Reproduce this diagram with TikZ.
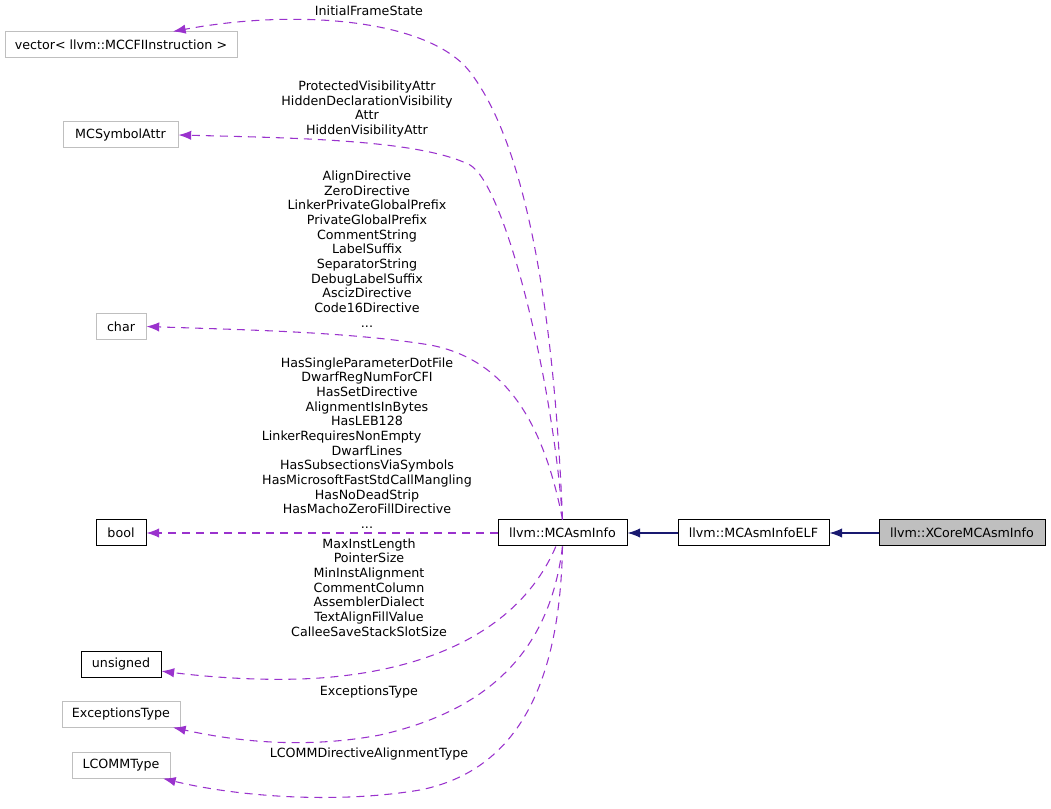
\documentclass[tikz,border=0pt]{standalone}
\usepackage{fontspec}
\setmainfont{DejaVu Sans}
\usetikzlibrary{arrows.meta}

\tikzset{
  cls/.style={draw=black, line width=0.75pt, minimum height=19.5pt, inner sep=0pt, font=\fontsize{9.5}{11}\selectfont},
  nodoc/.style={cls, draw={rgb, 255:red, 191; green, 191; blue, 191}},
  lbl/.style={align=center, inner sep=0pt, font=\fontsize{9.5}{11}\selectfont},
  usage/.style={draw={rgb, 255:red, 154; green, 50; blue, 205}, line width=0.8pt, dash pattern=on 6pt off 4.5pt,
    -{Latex[length=9.5pt,width=7pt,fill={rgb, 255:red, 154; green, 50; blue, 205}]}},
  inherit/.style={draw={rgb, 255:red, 25; green, 25; blue, 112}, line width=0.8pt,
    -{Latex[length=9.5pt,width=7pt,fill={rgb, 255:red, 25; green, 25; blue, 112}]}}
}

\begin{document}
\begin{tikzpicture}[x=0.75pt,y=0.75pt,yscale=-1,xscale=1]
    \useasboundingbox (0,0) rectangle (1051,809);

    %Class boxes
    \node [nodoc, minimum width=174pt] (vec) at (121,45) {vector< llvm::MCCFIInstruction >};
    \node [nodoc, minimum width=86.25pt] (sym) at (120.5,135) {MCSymbolAttr};
    \node [nodoc, minimum width=37.5pt] (chr) at (121,326.5) {char};
    \node [cls, minimum width=37.5pt] (boolbox) at (121,533) {bool};
    \node [cls, minimum width=60pt] (uns) at (121,664) {unsigned};
    \node [nodoc, minimum width=88.5pt] (exc) at (121,714) {ExceptionsType};
    \node [nodoc, minimum width=73.5pt] (lcomm) at (121,765) {LCOMMType};
    \node [cls, minimum width=96.75pt] (asm) at (562.5,533) {llvm::MCAsmInfo};
    \node [cls, minimum width=113.25pt] (elf) at (753.5,533) {llvm::MCAsmInfoELF};
    \node [cls, minimum width=124.5pt, fill={rgb, 255:red, 191; green, 191; blue, 191}] (xcore) at (962,533) {llvm::XCoreMCAsmInfo};

    %Inheritance
    \draw [inherit] (xcore) -- (elf);
    \draw [inherit] (elf) -- (asm);

    %Member usage
    \draw [usage] (asm.north) .. controls (555,330) and (530,150) .. (470,72) .. controls (430,20) and (300,8) .. ([xshift=39pt]vec.north);
    \draw [usage] (asm.north) .. controls (553,380) and (505,185) .. (470,165) .. controls (420,140) and (300,138) .. (sym.east);
    \draw [usage] (asm.north) .. controls (545,430) and (510,360) .. (430,345) .. controls (350,332) and (250,330) .. (chr.east);
    \draw [usage] (asm) -- (boolbox);
    \draw [usage] ([xshift=-5pt]asm.south) .. controls (520,630) and (430,670) .. (320,678) .. controls (260,682) and (200,676) .. (uns.-10);
    \draw [usage] (asm.south) .. controls (550,650) and (490,710) .. (380,735) .. controls (300,750) and (230,740) .. ([xshift=39pt]exc.south);
    \draw [usage] (asm.south) .. controls (560,680) and (520,770) .. (420,790) .. controls (330,805) and (230,795) .. ([xshift=31.5pt]lcomm.south);

    % Text Node
    \node [lbl] (lblvec) at (369,11) {InitialFrameState};
    % Text Node
    \node [lbl] (lblsym) at (367,109) {ProtectedVisibilityAttr\\HiddenDeclarationVisibility\\Attr\\HiddenVisibilityAttr};
    % Text Node
    \node [lbl] (lblchr) at (367,249) {AlignDirective\\ZeroDirective\\LinkerPrivateGlobalPrefix\\PrivateGlobalPrefix\\CommentString\\LabelSuffix\\SeparatorString\\DebugLabelSuffix\\AscizDirective\\Code16Directive\\...};
    % Text Node
    \node [lbl] (lblbool) at (367,443) {HasSingleParameterDotFile\\DwarfRegNumForCFI\\HasSetDirective\\AlignmentIsInBytes\\HasLEB128\\LinkerRequiresNonEmpty\rule{38pt}{0pt}\\DwarfLines\\HasSubsectionsViaSymbols\\HasMicrosoftFastStdCallMangling\\HasNoDeadStrip\\HasMachoZeroFillDirective\\...};
    % Text Node
    \node [lbl] (lbluns) at (369,587.5) {MaxInstLength\\PointerSize\\MinInstAlignment\\CommentColumn\\AssemblerDialect\\TextAlignFillValue\\CalleeSaveStackSlotSize};
    % Text Node
    \node [lbl] (lblexc) at (369,692) {ExceptionsType};
    % Text Node
    \node [lbl] (lbllcomm) at (369,754) {LCOMMDirectiveAlignmentType};

\end{tikzpicture}
\end{document}
